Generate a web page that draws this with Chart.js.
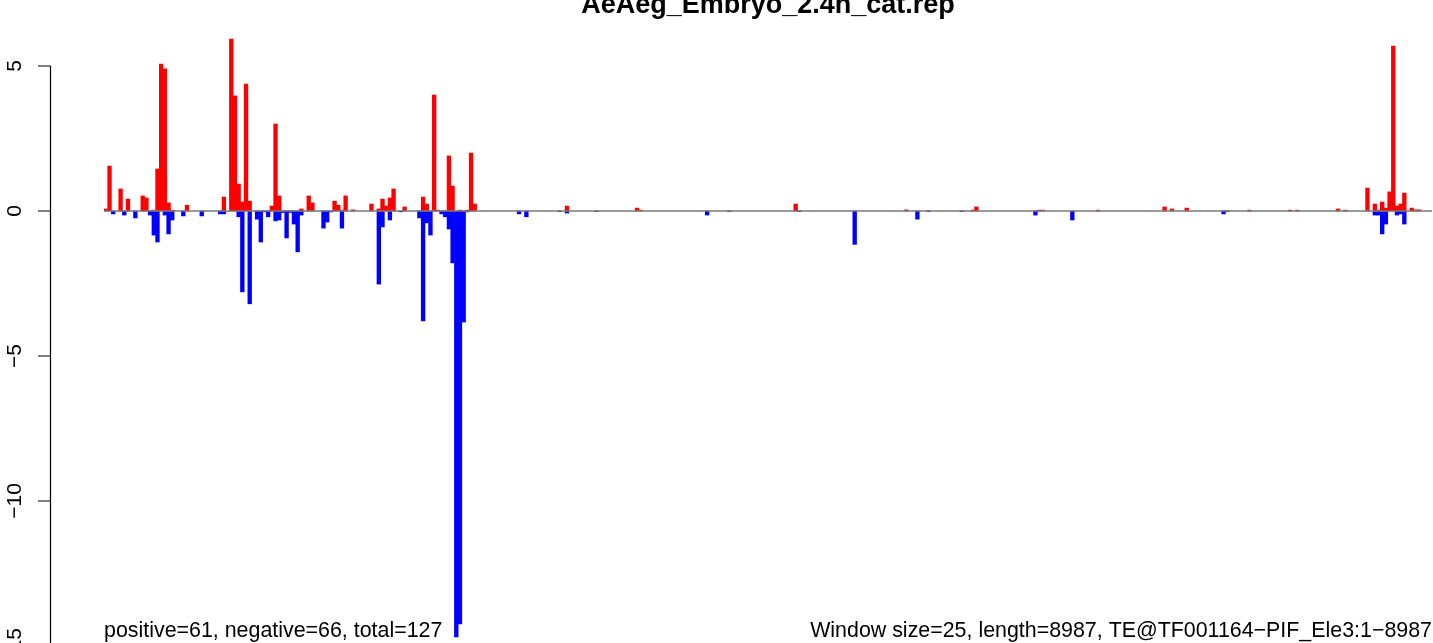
<!DOCTYPE html>
<html lang="en">
<head>
    <meta charset="UTF-8">
    <title>AeAeg_Embryo_2.4h_cat.rep</title>
    <script src="https://cdn.jsdelivr.net/npm/chart.js"></script>
    <style>
        html, body { margin: 0; padding: 0; background: #fff; overflow: hidden; }
        #grafico { display: block; }
    </style>
</head>
<body>
    <canvas id="grafico" width="1433" height="643"></canvas>

    <script>
        // window size 25, length 8987 -> 360 windows
        const nWindows = 360;

        // windows with a positive value and their heights
        const posWindows = [0, 1, 4, 6, 10, 11, 13, 14, 15, 16, 17, 18, 22, 32, 34, 35, 36, 37, 38, 39,
            45, 46, 47, 53, 55, 56, 62, 63, 64, 65, 67, 72, 74, 75, 76, 77, 78, 81, 86, 87,
            89, 90, 93, 94, 96, 98, 99, 100, 125, 144, 145, 187, 217, 235, 236, 253, 254, 269, 287, 289,
            293, 310, 321, 323, 334, 336, 342, 344, 345, 346, 347, 348, 349, 350, 351, 352, 354, 355, 356];
        const posValues = [0.07, 1.55, 0.76, 0.41, 0.52, 0.45, 0.03, 1.45, 5.07, 4.9, 0.28, 0.03, 0.2, 0.48, 5.93, 3.97, 0.93, 0.31, 4.38, 0.34,
            0.17, 3.0, 0.52, 0.07, 0.52, 0.28, 0.34, 0.2, 0.03, 0.52, 0.04, 0.24, 0.07, 0.41, 0.17, 0.45, 0.76, 0.14, 0.48, 0.24,
            4.0, 0.03, 1.9, 0.86, 0.03, 0.03, 2.0, 0.24, 0.17, 0.1, 0.03, 0.24, 0.04, 0.03, 0.14, 0.03, 0.03, 0.03, 0.14, 0.07,
            0.1, 0.03, 0.03, 0.03, 0.07, 0.03, 0.79, 0.24, 0.03, 0.31, 0.1, 0.66, 5.69, 0.17, 0.24, 0.62, 0.1, 0.04, 0.04];

        // windows with a negative value and their depths
        const negWindows = [2, 5, 8, 12, 13, 14, 16, 17, 18, 21, 26, 31, 32, 36, 37, 39, 41, 42, 43, 44,
            46, 47, 48, 49, 50, 51, 52, 53, 59, 60, 61, 64, 74, 75, 77, 80, 85, 86, 87, 88,
            91, 92, 93, 94, 95, 96, 97, 98, 112, 114, 123, 125, 133, 163, 169, 188, 203, 220, 223, 232,
            252, 262, 303, 304, 344, 345, 346, 347, 350, 351, 352];
        const negValues = [-0.1, -0.14, -0.24, -0.14, -0.83, -1.07, -0.14, -0.79, -0.31, -0.17, -0.17, -0.1, -0.1, -0.2, -2.79, -3.2, -0.28, -1.07, -0.03, -0.2,
            -0.34, -0.31, -0.05, -0.93, -0.05, -0.45, -1.41, -0.14, -0.59, -0.38, -0.03, -0.59, -2.52, -0.55, -0.31, -0.03, -0.24, -3.79, -0.41, -0.83,
            -0.1, -0.2, -0.62, -1.79, -14.69, -14.24, -3.83, -0.03, -0.1, -0.2, -0.02, -0.07, -0.02, -0.14, -0.02, -0.02, -1.15, -0.28, -0.02, -0.02,
            -0.14, -0.31, -0.1, -0.02, -0.14, -0.14, -0.79, -0.45, -0.14, -0.1, -0.45];

        const yTicks = [5, 0, -5, -10, -15];
        const titulo = "AeAeg_Embryo_2.4h_cat.rep";
        const textoEsq = "positive=61, negative=66, total=127";
        const textoDir = "Window size=25, length=8987, TE@TF001164\u2212PIF_Ele3:1\u22128987";

        function montarSerie(janelas, valores) {
            const serie = new Array(nWindows).fill(null);
            janelas.forEach((w, i) => { serie[w] = valores[i]; });
            return serie;
        }

        const labels = Array.from({ length: nWindows }, (_, i) => i + 1);
        const fonte = '"Liberation Sans", Arial, Helvetica, sans-serif';

        // eixo y, linha do zero e textos no estilo do R
        const estiloR = {
            id: 'estiloR',
            afterDatasetsDraw(chart) {
                const ctx = chart.ctx;
                const y = chart.scales.y;
                const area = chart.chartArea;
                ctx.save();

                // linha do zero
                const y0 = y.getPixelForValue(0);
                ctx.strokeStyle = '#7a7a7a';
                ctx.lineWidth = 1.4;
                ctx.beginPath();
                ctx.moveTo(area.left, y0);
                ctx.lineTo(area.right, y0);
                ctx.stroke();

                // eixo
                ctx.strokeStyle = '#000';
                ctx.lineWidth = 1.2;
                const topo = y.getPixelForValue(yTicks[0]);
                const base = y.getPixelForValue(yTicks[yTicks.length - 1]);
                ctx.beginPath();
                ctx.moveTo(50.5, topo);
                ctx.lineTo(50.5, base);
                yTicks.forEach(t => {
                    const py = y.getPixelForValue(t);
                    ctx.moveTo(38, py);
                    ctx.lineTo(50.5, py);
                });
                ctx.stroke();

                ctx.fillStyle = '#000';
                ctx.font = '21px ' + fonte;
                ctx.textAlign = 'center';
                ctx.textBaseline = 'alphabetic';
                yTicks.forEach(t => {
                    const py = y.getPixelForValue(t);
                    ctx.save();
                    ctx.translate(20.5, py);
                    ctx.rotate(-Math.PI / 2);
                    ctx.fillText(String(t).replace('-', '\u2212'), 0, 0);
                    ctx.restore();
                });

                // titulo (cortado no topo como no original)
                ctx.font = 'bold 27px ' + fonte;
                ctx.fillText(titulo, (area.left + area.right) / 2, 13);

                // textos de baixo
                ctx.font = '21.4px ' + fonte;
                ctx.textAlign = 'left';
                ctx.fillText(textoEsq, area.left, 636.5);
                ctx.textAlign = 'right';
                ctx.fillText(textoDir, area.right, 636.5);

                ctx.restore();
            }
        };

        const ctx = document.getElementById("grafico").getContext("2d");
        const grafico = new Chart(ctx, {
            type: 'bar',
            data: {
                labels: labels,
                datasets: [
                    { label: 'positive', data: montarSerie(posWindows, posValues), backgroundColor: '#ff0000',
                      borderWidth: 0, barPercentage: 1, categoryPercentage: 1 },
                    { label: 'negative', data: montarSerie(negWindows, negValues), backgroundColor: '#0000ff',
                      borderWidth: 0, barPercentage: 1, categoryPercentage: 1 }
                ]
            },
            options: {
                responsive: false,
                animation: false,
                devicePixelRatio: 1,
                layout: { padding: { left: 104, right: 1, top: 0, bottom: 0 } },
                plugins: { legend: { display: false }, tooltip: { enabled: false }, title: { display: false } },
                scales: {
                    x: { stacked: true, display: false },
                    y: { stacked: true, display: false, min: -432 / 29, max: 211 / 29 }
                }
            },
            plugins: [estiloR]
        });
    </script>
</body>
</html>
